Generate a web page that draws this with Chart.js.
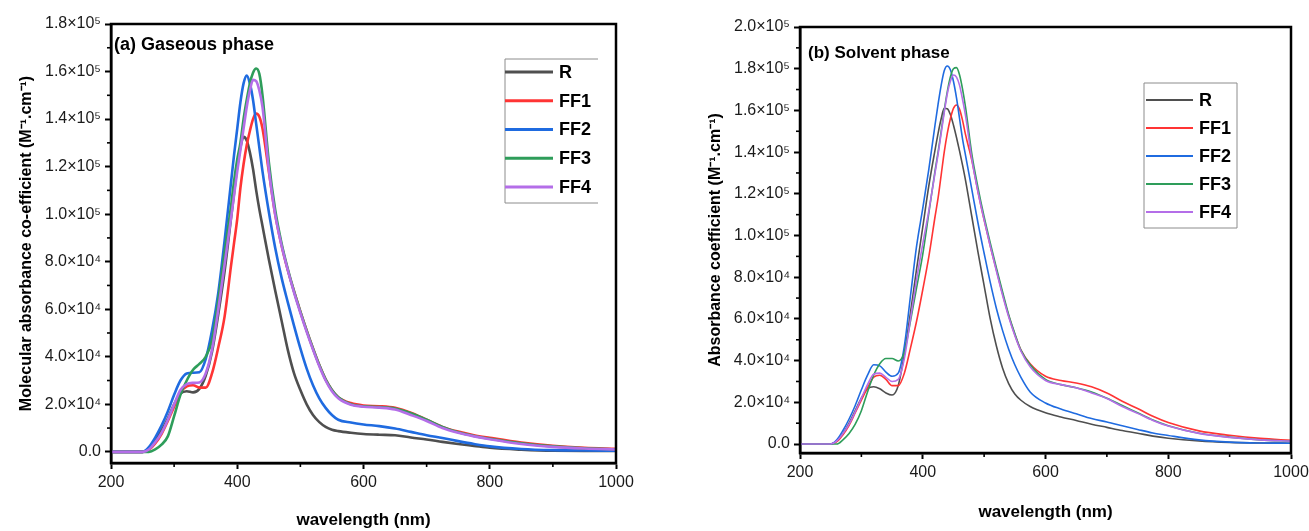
<!DOCTYPE html>
<html>
<head>
<meta charset="utf-8">
<script src="https://cdn.jsdelivr.net/npm/chart.js@4.4.1/dist/chart.umd.min.js"></script>
<style>
  body { margin: 0; background: #fff; overflow: hidden; }
  #wrap { position: relative; width: 1309px; height: 531px; overflow: hidden; }
  canvas { position: absolute; top: 0; }
</style>
</head>
<body>
<div id="wrap">
  <canvas id="gasChart" width="650" height="531" style="left:0"></canvas>
  <canvas id="solChart" width="665" height="531" style="left:650px"></canvas>
</div>
<script>
// ---- data ----
const seriesNames = ["R", "FF1", "FF2", "FF3", "FF4"];
const seriesColors = ["#4f4f4f", "#ff3434", "#1f6be0", "#2e9d5a", "#b46ee8"];

const xTicks = [200, 400, 600, 800, 1000];
const yTicksGas = [0, 20000, 40000, 60000, 80000, 100000, 120000, 140000, 160000, 180000];
const yTicksSol = [0, 20000, 40000, 60000, 80000, 100000, 120000, 140000, 160000, 180000, 200000];

// (a) gaseous phase
const wlGas = [200,250,260,270,280,290,300,310,320,330,340,350,360,370,380,390,
  395,400,405,410,415,420,425,430,435,440,
  450,460,470,480,490,500,510,520,530,540,550,560,
  580,600,625,650,675,700,725,750,775,800,850,900,950,1000];
const gasR   = [0,0,1500,5000,9000,14000,20000,24500,25500,25000,26500,32000,42000,58000,76000,98000,
  109000,120000,128000,132500,131000,126000,119000,110000,102000,95000,
  81000,68000,55500,43000,33000,26000,20000,15500,12500,10500,9300,8700,
  8000,7500,7200,7000,6000,5200,4200,3300,2500,1700,900,450,400,400];
const gasFF1 = [0,0,800,3500,7500,13000,19000,25000,27500,28000,27000,27000,33000,44000,57000,78000,
  88000,98000,111000,121000,129000,135000,140000,142300,141000,136000,
  118000,100000,87000,76500,67500,59000,51000,43500,36500,30500,26000,23000,
  20500,19500,19200,18500,16500,13500,10500,8500,7000,5900,3900,2500,1700,1250];
const gasFF2 = [0,0,2000,6000,11000,17000,24000,30000,33000,33300,33500,39000,51000,67000,89000,113000,
  125000,136000,147000,155000,158300,155000,148000,138000,128000,118000,
  101000,86000,73500,63000,53000,43500,35000,28000,22500,18500,15500,13500,
  12300,11500,10800,9800,8400,7000,5800,4500,3300,2300,1200,700,550,500];
const gasFF3 = [0,0,0,1000,3000,6500,15000,24000,30000,34500,37000,40000,47000,64000,84000,103000,
  114000,123000,130000,140000,148000,155000,159500,161300,159000,150000,
  122000,102000,88000,77000,67500,59000,51000,43500,36500,30500,26000,23000,
  20000,19200,18800,18200,16200,13500,10500,8200,6700,5500,3600,2300,1500,1100];
const gasFF4 = [0,0,1000,4000,8000,13500,20000,26000,28500,29000,29200,33000,43000,60000,79000,98000,
  108000,118000,127000,136000,145000,152000,156500,156000,152000,145000,
  119000,100000,87000,76500,67000,58500,50500,43000,36000,30000,25500,22500,
  19800,19000,18600,17800,15500,13000,10000,8000,6500,5300,3300,2100,1400,1000];

// (b) solvent phase
const wlSol = [200,250,260,270,280,290,300,310,320,330,340,350,360,370,380,390,400,410,420,
  425,430,435,440,445,450,455,460,465,470,
  480,490,500,510,520,530,540,550,560,
  575,600,625,650,675,700,725,750,775,800,850,900,950,1000];
const solR   = [0,0,1500,5000,10000,16000,22000,26500,27500,26500,24500,23500,28000,43000,63000,84000,104000,124000,141000,
  149000,156000,161000,160800,158000,153000,147000,140500,133500,126000,
  109000,92000,76000,60000,47000,36500,29000,24000,21000,
  18000,15000,13000,11300,9500,8000,6500,5200,3800,2800,1500,800,500,400];
const solFF1 = [0,0,1200,4500,9000,15000,21000,27000,32000,33000,31000,28000,28000,34000,46000,59000,74000,90000,109000,
  118000,129000,140000,149000,156000,161000,162600,160500,155000,148000,
  136000,121000,107500,95000,83500,72000,61500,52500,45000,
  38500,32500,30500,29300,27500,24500,20500,17000,13300,10300,6300,4200,2700,1800];
const solFF2 = [0,0,2000,6500,12000,18500,26000,33000,38000,37500,34500,32500,34000,47000,71000,95000,113000,132000,153000,
  163000,172000,179000,181300,179500,174000,166000,156000,146000,138000,
  122000,106000,91500,77500,65000,54500,45500,38000,32000,
  25000,19700,16800,14500,12200,10600,8800,7000,5300,4100,2000,900,500,400];
const solFF3 = [0,0,0,2000,5000,9500,16000,25000,33000,38500,41000,41000,39800,44000,59000,75000,91000,111000,131000,
  140000,150000,160000,169000,176000,180000,180500,177000,170000,161000,
  139000,123000,109000,96500,84500,73000,62000,53000,45000,
  38000,31000,28500,27000,25000,22000,18500,15000,11500,8800,5200,3300,2000,1400];
const solFF4 = [0,0,1500,5000,9500,15500,22000,28500,33500,34000,32000,30000,31000,41000,60000,79000,96000,112000,130000,
  139000,149000,159000,168000,174000,177000,176000,172000,165000,157000,
  136500,121000,107500,95000,83000,71500,61000,52000,44500,
  37000,30500,28500,27000,24500,21800,18000,14700,11300,8600,5100,3200,2000,1400];

// ---- helpers ----
const FONT = '"Liberation Sans", Arial, sans-serif';
const SUP = { 4: "\u2074", 5: "\u2075" };

function sci(v) {
  if (v === 0) return "0.0";
  const e = Math.floor(Math.log10(v) + 1e-9);
  return (v / Math.pow(10, e)).toFixed(1) + "\u00d710" + SUP[e];
}

function makeSets(wl, rows, width) {
  return rows.map((vals, i) => ({
    label: seriesNames[i],
    data: wl.map((w, k) => ({ x: w, y: vals[k] })),
    borderColor: seriesColors[i],
    borderWidth: width,
    pointRadius: 0,
    cubicInterpolationMode: "monotone",
    fill: false,
    order: rows.length - i
  }));
}

// box round the plot + minor ticks
const framePlugin = {
  id: "frame",
  afterDatasetsDraw(chart, args, o) {
    const { ctx, chartArea: a, scales } = chart;
    ctx.save();
    ctx.strokeStyle = "#000";
    ctx.lineWidth = o.width;
    ctx.strokeRect(a.left, a.top, a.right - a.left, a.bottom - a.top);
    ctx.lineWidth = 1.6;
    const xs = scales.x.ticks.map(t => t.value);
    for (let i = 0; i < xs.length - 1; i++) {
      const px = scales.x.getPixelForValue((xs[i] + xs[i + 1]) / 2);
      ctx.beginPath(); ctx.moveTo(px, a.bottom); ctx.lineTo(px, a.bottom + 4); ctx.stroke();
    }
    const ys = scales.y.ticks.map(t => t.value);
    for (let i = 0; i < ys.length - 1; i++) {
      const py = scales.y.getPixelForValue((ys[i] + ys[i + 1]) / 2);
      ctx.beginPath(); ctx.moveTo(a.left, py); ctx.lineTo(a.left - 4, py); ctx.stroke();
    }
    ctx.restore();
  }
};

// panel title and boxed legend
const panelLegend = {
  id: "panelLegend",
  afterDraw(chart, args, o) {
    const ctx = chart.ctx;
    ctx.save();
    ctx.fillStyle = "#000";
    ctx.textBaseline = "middle";
    ctx.font = "bold " + o.titleSize + "px " + FONT;
    ctx.fillText(o.title, o.titleX, o.titleY);

    const b = o.box;
    ctx.strokeStyle = "#8c8c8c";
    ctx.lineWidth = 1;
    ctx.beginPath();
    ctx.moveTo(b.right, b.top); ctx.lineTo(b.left, b.top);
    ctx.lineTo(b.left, b.bottom); ctx.lineTo(b.right, b.bottom);
    if (o.closed) ctx.lineTo(b.right, b.top);
    ctx.stroke();

    ctx.font = "bold 18px " + FONT;
    chart.data.datasets.forEach((ds, i) => {
      const y = o.rowY + o.rowH * i;
      ctx.strokeStyle = ds.borderColor;
      ctx.lineWidth = o.lineW;
      ctx.beginPath(); ctx.moveTo(o.lineX, y); ctx.lineTo(o.lineX + o.lineLen, y); ctx.stroke();
      ctx.fillStyle = "#000";
      ctx.fillText(ds.label, o.lineX + o.lineLen + 6, y + 1);
    });
    ctx.restore();
  }
};

function axes(cfg) {
  return {
    x: {
      type: "linear", min: 200, max: 1000,
      afterBuildTicks: s => { s.ticks = xTicks.map(v => ({ value: v })); },
      afterFit: s => { s.height = cfg.xHeight; },
      ticks: { autoSkip: false, maxRotation: 0, padding: 4, color: "#1a1a1a", font: { family: FONT, size: 16 },
               callback: v => String(v) },
      grid: { drawOnChartArea: false, tickLength: 6, tickWidth: 2, tickColor: "#000" },
      border: { color: "#000", width: 2.5 },
      title: { display: true, text: "wavelength (nm)", color: "#000",
               font: { family: FONT, size: 17, weight: "bold" }, padding: { top: 0, bottom: cfg.xTitlePad } }
    },
    y: {
      min: cfg.yMin, max: cfg.yMax,
      afterBuildTicks: s => { s.ticks = cfg.yTicks.map(v => ({ value: v })); },
      afterFit: s => { s.width = cfg.yWidth; },
      ticks: { autoSkip: false, padding: 4, color: "#1a1a1a", font: { family: FONT, size: 16 },
               callback: v => sci(v) },
      grid: { drawOnChartArea: false, tickLength: 6, tickWidth: 2, tickColor: "#000" },
      border: { color: "#000", width: 2.5 },
      title: { display: true, text: cfg.yTitle, color: "#000",
               font: { family: FONT, size: 16, weight: "bold" }, padding: { top: cfg.yTitlePad, bottom: 0 } }
    }
  };
}

new Chart(document.getElementById("gasChart"), {
  type: "line",
  data: { datasets: makeSets(wlGas, [gasR, gasFF1, gasFF2, gasFF3, gasFF4], 2.6) },
  options: {
    responsive: false,
    animation: false,
    layout: { padding: { top: 24, right: 34, left: 0, bottom: 0 } },
    scales: axes({ xHeight: 68, xTitlePad: 0, yWidth: 111, yTitlePad: 17,
                   yMin: -4700, yMax: 180000, yTicks: yTicksGas,
                   yTitle: "Molecular absorbance co-efficient (M\u207b\u00b9.cm\u207b\u00b9)" }),
    plugins: {
      legend: { display: false },
      tooltip: { enabled: false },
      frame: { width: 2.5 },
      panelLegend: {
        title: "(a) Gaseous phase", titleSize: 18, titleX: 114, titleY: 45,
        box: { left: 505, right: 598, top: 59, bottom: 203 }, closed: false,
        rowY: 72, rowH: 28.75, lineX: 505, lineLen: 48, lineW: 3
      }
    }
  },
  plugins: [framePlugin, panelLegend]
});

new Chart(document.getElementById("solChart"), {
  type: "line",
  data: { datasets: makeSets(wlSol, [solR, solFF1, solFF2, solFF3, solFF4], 1.6) },
  options: {
    responsive: false,
    animation: false,
    layout: { padding: { top: 27, right: 24, left: 0, bottom: 0 } },
    scales: axes({ xHeight: 78, xTitlePad: 8, yWidth: 150, yTitlePad: 56,
                   yMin: -4300, yMax: 200000, yTicks: yTicksSol,
                   yTitle: "Absorbance coefficient (M\u207b\u00b9.cm\u207b\u00b9)" }),
    plugins: {
      legend: { display: false },
      tooltip: { enabled: false },
      frame: { width: 2.5 },
      panelLegend: {
        title: "(b) Solvent phase", titleSize: 17, titleX: 158, titleY: 53,
        box: { left: 494, right: 587, top: 83, bottom: 228 }, closed: true,
        rowY: 100, rowH: 28, lineX: 496, lineLen: 47, lineW: 1.8
      }
    }
  },
  plugins: [framePlugin, panelLegend]
});
</script>
</body>
</html>
